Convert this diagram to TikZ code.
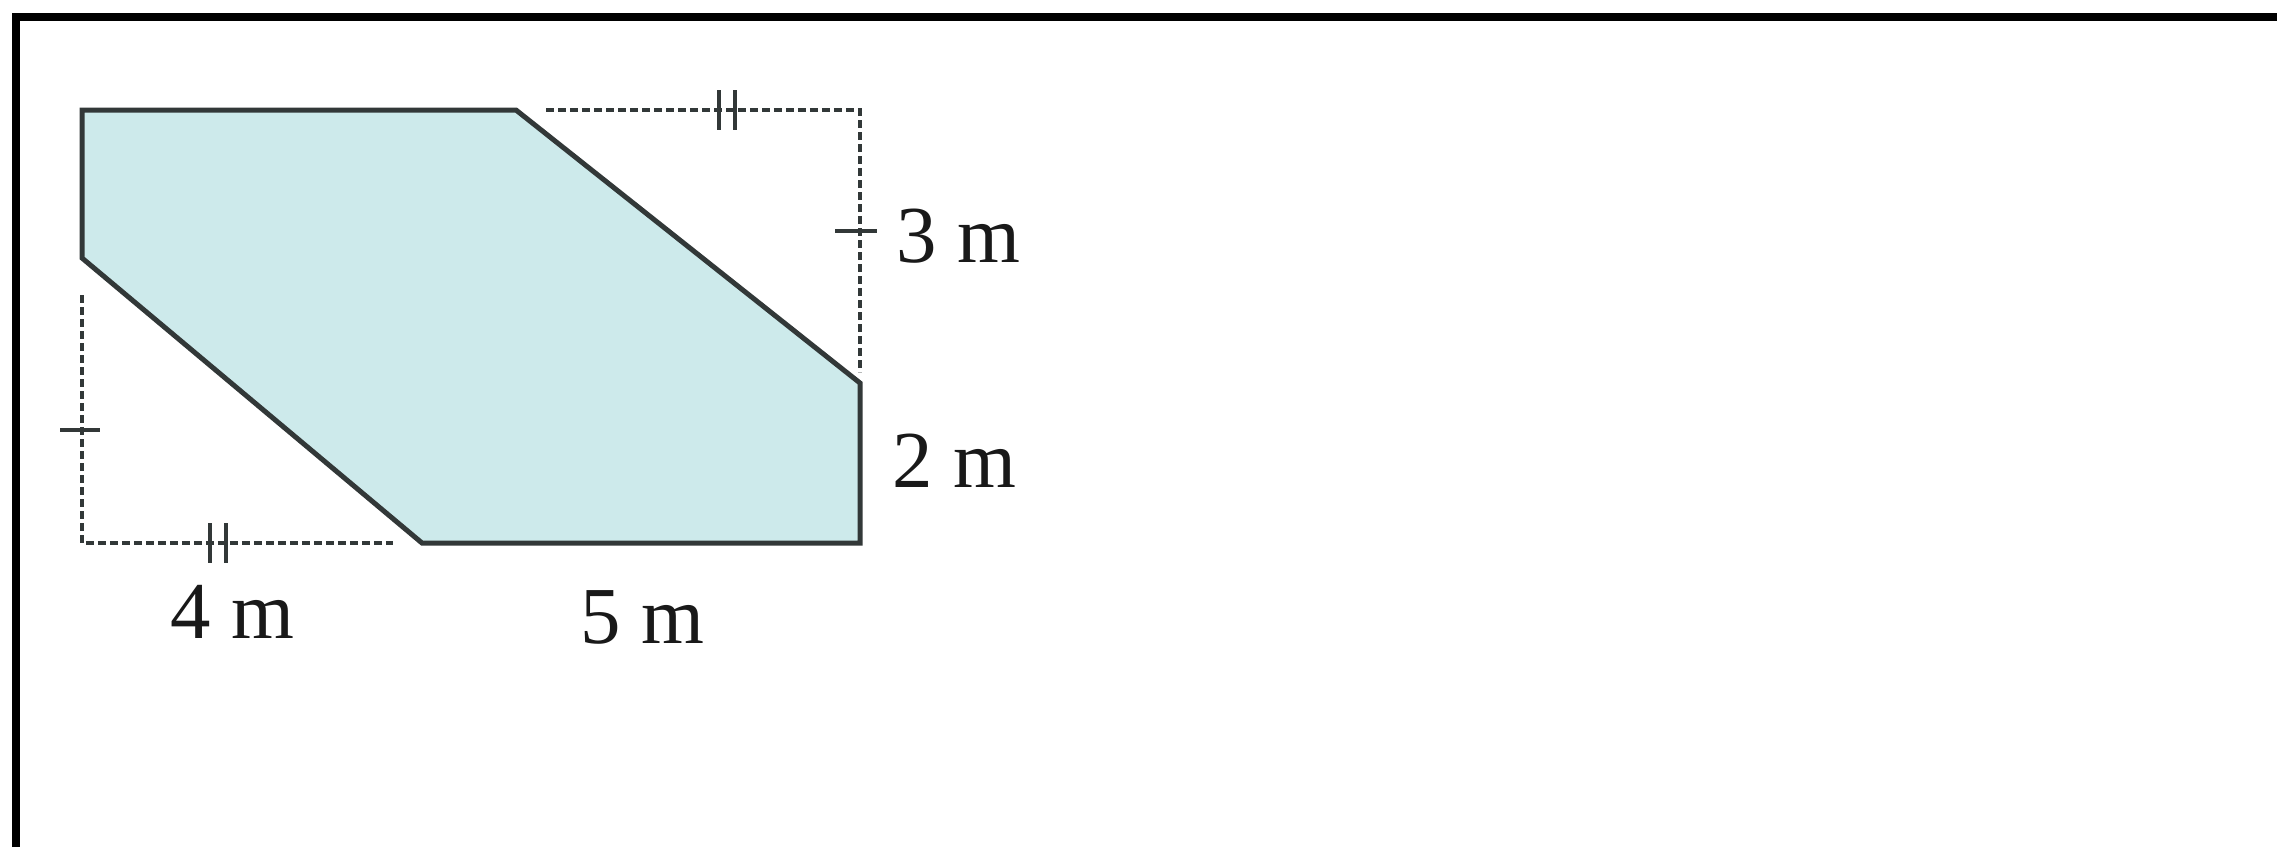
\documentclass[tikz,border=0pt]{standalone}
\usepackage{fontspec}
\setmainfont{Liberation Serif}
\usepackage{xcolor}
\definecolor{flaeche}{RGB}{205,234,235}
\definecolor{kante}{RGB}{50,56,56}

\begin{document}
\begin{tikzpicture}[x=0.1mm, y=-0.1mm,
                area/.style={draw=kante, fill=flaeche, line width=0.5mm, line join=miter},
                dimline/.style={draw=kante, dash pattern=on 0.8mm off 0.4mm, line width=0.35mm},
                tickmark/.style={draw=kante, line width=0.35mm},
                frameline/.style={draw=black, line width=0.8mm},
                lenlabel/.style={font=\fontsize{23}{26}\selectfont, text=black!90, inner sep=0pt, anchor=base west}
            ]
            \useasboundingbox (0,0) rectangle (2277,847);

            % Rahmen
            \draw[frameline] (16,847) -- (16,17) -- (2277,17);

            % Ecken
            \coordinate (A) at (82,110);
            \coordinate (B) at (516,110);
            \coordinate (C) at (860,383);
            \coordinate (D) at (860,543);
            \coordinate (E) at (422,543);
            \coordinate (F) at (82,258);

            % Fläche
            \draw[area] (A) -- (B) -- (C) -- (D) -- (E) -- (F) -- cycle;

            % Hilfslinien
            \coordinate (G) at (546,110);
            \coordinate (H) at (860,110);
            \coordinate (I) at (860,372);
            \coordinate (J) at (82,295);
            \coordinate (K) at (82,543);
            \coordinate (L) at (393,543);
            \draw[dimline] (G) -- (H) -- (I);
            \draw[dimline] (J) -- (K) -- (L);

            % Markierungen
            \coordinate (T1) at (727,110);
            \coordinate (T2) at (218,543);
            \coordinate (T3) at (860,231);
            \coordinate (T4) at (82,430);
            \draw[tickmark] ([xshift=-0.8mm, yshift=2mm]T1) -- ([xshift=-0.8mm, yshift=-2mm]T1);
            \draw[tickmark] ([xshift=0.8mm, yshift=2mm]T1) -- ([xshift=0.8mm, yshift=-2mm]T1);
            \draw[tickmark] ([xshift=-0.8mm, yshift=2mm]T2) -- ([xshift=-0.8mm, yshift=-2mm]T2);
            \draw[tickmark] ([xshift=0.8mm, yshift=2mm]T2) -- ([xshift=0.8mm, yshift=-2mm]T2);
            \draw[tickmark] ([xshift=-2.5mm]T3) -- ([xshift=1.7mm]T3);
            \draw[tickmark] ([xshift=-2.2mm]T4) -- ([xshift=1.8mm]T4);

            % Beschriftung
            \node[lenlabel] (L3) at (896,262) {3 m};
            \node[lenlabel] (L2) at (892,487) {2 m};
            \node[lenlabel] (L4) at (170,638) {4 m};
            \node[lenlabel] (L5) at (580,643) {5 m};

        \end{tikzpicture}
\end{document}
